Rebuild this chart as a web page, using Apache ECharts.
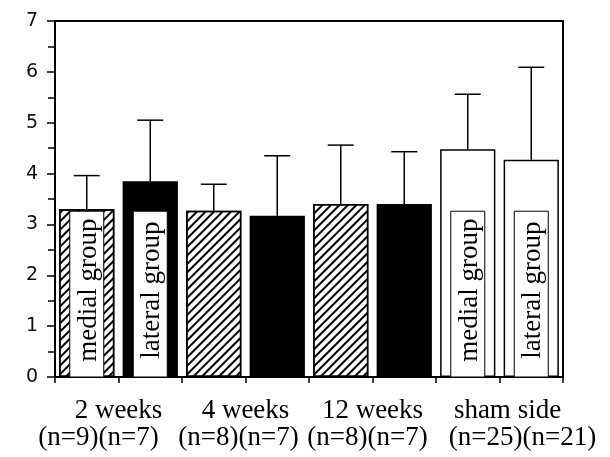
<!DOCTYPE html>
<html>
<head>
<meta charset="utf-8">
<script src="https://cdn.jsdelivr.net/npm/echarts@6/dist/echarts.min.js"></script>
<style>html,body{margin:0;padding:0;background:#fff;}#c{width:610px;height:457px;}</style>
</head>
<body>
<div id="c"></div>
<script>
// ---- data ----
var barCategories = ['2w medial','2w lateral','4w medial','4w lateral','12w medial','12w lateral','sham medial','sham lateral'];
var barGroups = ['medial','lateral','medial','lateral','medial','lateral','shamMedial','shamLateral'];
var meanValues = [3.30, 3.85, 3.27, 3.17, 3.40, 3.40, 4.48, 4.27];
var sdValues   = [0.66, 1.20, 0.52, 1.18, 1.16, 1.03, 1.08, 1.82];
var groupNames = ['2 weeks','4 weeks','12 weeks','sham side'];
var groupCounts = ['(n=9)(n=7)','(n=8)(n=7)','(n=8)(n=7)','(n=25)(n=21)'];
var boxLabels = ['medial group','lateral group','','','','','medial group','lateral group'];
var labelBoxTop = 3.26;
var yTicks = [0,1,2,3,4,5,6,7];

// ---- styles ----
var hatch = {symbol:'rect', symbolSize:1, color:'#000', dashArrayX:[1,0], dashArrayY:[1.6,3.2], rotation:-Math.PI/4};
var styleFor = {
  medial:{color:'#fff', borderColor:'#000', borderWidth:1.5, decal:hatch},
  lateral:{color:'#000', borderColor:'#000', borderWidth:1.5},
  shamMedial:{color:'#fff', borderColor:'#000', borderWidth:1.5},
  shamLateral:{color:'#fff', borderColor:'#000', borderWidth:1.5}
};
var barData = meanValues.map(function(v,i){ return {value:v, itemStyle:styleFor[barGroups[i]]}; });
var errData = meanValues.map(function(v,i){ return [i, v, v+sdValues[i]]; });
var boxData = boxLabels.map(function(t,i){ return [i, labelBoxTop, t]; });

var serif = '"Liberation Serif","Times New Roman",serif';
var linePad = [{n:[0,40,0,0],g:[0,0,0,0]},{n:[0,14,0,0],g:[0,0,0,0]},{n:[0,10,0,0],g:[0,0,0,0]},{n:[0,0,0,46],g:[0,0,0,16]}];
var rich = {};
linePad.forEach(function(p,i){
  rich['g'+i] = {fontFamily:serif, fontSize:27, lineHeight:27, color:'#000', padding:p.g};
  rich['n'+i] = {fontFamily:serif, fontSize:27, lineHeight:27, color:'#000', padding:p.n};
});

var chart = echarts.init(document.getElementById('c'), null, {renderer:'canvas'});
chart.setOption({
  animation:false,
  backgroundColor:'#fff',
  grid:{left:55, right:47, top:21, bottom:80, show:true, borderColor:'#000', borderWidth:2, backgroundColor:'transparent'},
  xAxis:[{
    type:'category', data:barCategories, position:'bottom',
    axisLine:{lineStyle:{color:'#000', width:2}},
    axisTick:{show:true, interval:0, length:6, lineStyle:{color:'#000', width:1.5}},
    axisLabel:{show:false}
  },{
    type:'category', data:groupNames, position:'bottom',
    axisLine:{show:false}, axisTick:{show:false},
    axisLabel:{interval:0, margin:20,
      formatter:function(v, i){ return '{g'+i+'|'+v+'}\n{n'+i+'|'+groupCounts[i]+'}'; },
      rich:rich}
  }],
  yAxis:{
    type:'value', min:yTicks[0], max:yTicks[yTicks.length-1], interval:1,
    axisLine:{show:true, lineStyle:{color:'#000', width:2}},
    axisTick:{show:true, length:8, lineStyle:{color:'#000', width:1.5}},
    minorTick:{show:true, splitNumber:2, length:7, lineStyle:{color:'#000', width:1.5}},
    splitLine:{show:false},
    axisLabel:{margin:17, fontFamily:'"DejaVu Sans", sans-serif', fontWeight:'normal', fontSize:19, color:'#111'}
  },
  series:[{
    type:'bar', data:barData, barCategoryGap:'13%', xAxisIndex:0, z:2
  },{
    type:'custom', xAxisIndex:0, data:errData, z:3,
    renderItem:function(params, api){
      var x = api.value(0);
      var p0 = api.coord([x, api.value(1)]);
      var p1 = api.coord([x, api.value(2)]);
      var cw = 13;
      return {type:'group', children:[
        {type:'line', shape:{x1:p0[0], y1:p0[1], x2:p1[0], y2:p1[1]}, style:{stroke:'#000', lineWidth:1.5}},
        {type:'line', shape:{x1:p1[0]-cw, y1:p1[1], x2:p1[0]+cw, y2:p1[1]}, style:{stroke:'#000', lineWidth:1.5}}
      ]};
    }
  },{
    type:'custom', xAxisIndex:0, data:boxData, z:4,
    renderItem:function(params, api){
      var t = boxLabels[params.dataIndex];
      if(!t) return null;
      var x = api.value(0);
      var top = api.coord([x, api.value(1)]);
      var bot = api.coord([x, 0]);
      var w = 34;
      return {type:'group', children:[
        {type:'rect', shape:{x:top[0]-w/2, y:top[1], width:w, height:bot[1]-top[1]}, style:{fill:'#fff', stroke:'#000', lineWidth:1}},
        {type:'text', x:top[0]+2, y:(top[1]+bot[1])/2-4, rotation:Math.PI/2,
          style:{text:t, font:'27px '+serif, fill:'#000', textAlign:'center', textVerticalAlign:'middle'}}
      ]};
    }
  }]
});
</script>
</body>
</html>
